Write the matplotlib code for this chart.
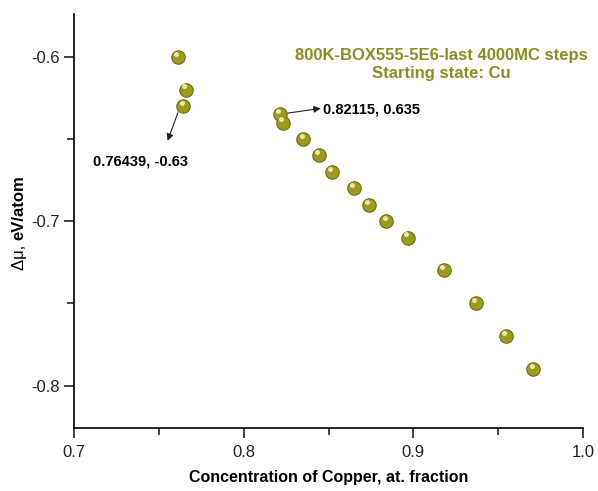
import matplotlib
matplotlib.use("Agg")
import matplotlib.pyplot as plt
from matplotlib.ticker import MultipleLocator, FormatStrFormatter

plt.rcParams['font.family'] = ['Liberation Sans', 'DejaVu Sans']

# Copper concentration (at. fraction) and chemical potential difference (eV/atom)
conc = [0.7613, 0.7658, 0.76439, 0.82115, 0.8229, 0.8351, 0.8444, 0.8518,
        0.8648, 0.8738, 0.8840, 0.8966, 0.9178, 0.9369, 0.9544, 0.9707]
dmu = [-0.600, -0.620, -0.630, -0.635, -0.640, -0.650, -0.660, -0.670,
       -0.680, -0.690, -0.700, -0.710, -0.730, -0.750, -0.770, -0.790]

title_lines = ["800K-BOX555-5E6-last 4000MC steps", "Starting state: Cu"]
olive = '#8c8c22'

fig = plt.figure(figsize=(5.98, 4.91), dpi=100)
ax = fig.add_axes([0.1237, 0.1277, 0.8513, 0.8438])

# shaded spheres: dark rim, body, and a small highlight
ax.scatter(conc, dmu, s=110, color='#6b6b08', zorder=3, linewidths=0)
ax.scatter(conc, dmu, s=80, color='#9b9b1e', zorder=4, linewidths=0)
ax.scatter([c - 0.0010 for c in conc], [d + 0.0019 for d in dmu], s=13,
           color='#e8e8a8', zorder=5, linewidths=0)

ax.set_xlim(0.7, 1.0)
ax.set_ylim(-0.826, -0.574)
ax.xaxis.set_major_locator(MultipleLocator(0.1))
ax.xaxis.set_minor_locator(MultipleLocator(0.05))
ax.yaxis.set_major_locator(MultipleLocator(0.1))
ax.yaxis.set_minor_locator(MultipleLocator(0.05))
ax.xaxis.set_major_formatter(FormatStrFormatter('%.1f'))
ax.yaxis.set_major_formatter(FormatStrFormatter('%.1f'))

for s in ('top', 'right'):
    ax.spines[s].set_visible(False)
for s in ('left', 'bottom'):
    ax.spines[s].set_linewidth(1.2)
ax.tick_params(which='major', direction='out', length=7, width=1.2,
               labelsize=12, colors='#222222')
ax.tick_params(which='minor', direction='out', length=5, width=1.2,
               colors='#222222')
ax.tick_params(axis='x', which='major', pad=5)
ax.tick_params(axis='y', which='major', pad=3)

ax.set_xlabel("Concentration of Copper, at. fraction", fontsize=11.5,
              fontweight='bold', labelpad=7)

# y label: symbol part in regular weight, unit part in bold
fig.text(0.032, 0.511, "\u0394\u03bc, ", rotation=90, fontsize=12,
         ha='center', va='top')
fig.text(0.032, 0.511, "eV/atom", rotation=90, fontsize=12,
         fontweight='bold', ha='center', va='bottom')

ax.text(0.721, 0.879, "\n".join(title_lines), transform=ax.transAxes,
        ha='center', va='center', fontsize=12, fontweight='bold',
        color=olive, linespacing=1.24)

# annotations pointing at two labelled points
ax.annotate("", xy=(0.7546, -0.6527), xytext=(0.7618, -0.6325),
            arrowprops=dict(arrowstyle='-|>', color='#222222', lw=0.8,
                            mutation_scale=10))
ax.text(0.7390, -0.6637, f"{conc[2]:.5f}, {dmu[2]:.2f}", fontsize=10.5,
        fontweight='bold', ha='center', va='center')

ax.annotate("", xy=(0.8470, -0.6312), xytext=(0.8245, -0.6345),
            arrowprops=dict(arrowstyle='-|>', color='#222222', lw=0.8,
                            mutation_scale=10))
ax.text(0.8470, -0.6320, f"{conc[3]:.5f}, {-dmu[3]:.3f}", fontsize=10.5,
        fontweight='bold', ha='left', va='center')

fig.savefig("out.png", dpi=100)
